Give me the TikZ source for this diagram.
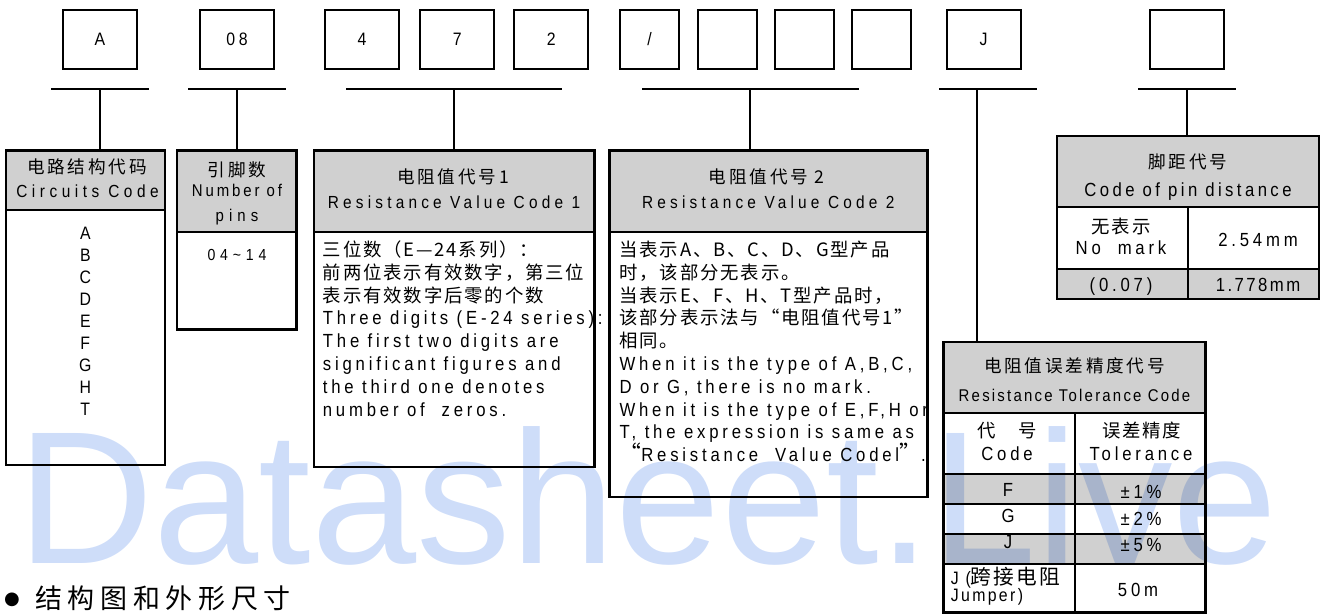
\documentclass[tikz,border=0pt]{standalone}
\usepackage{fontspec}
\setmainfont{Liberation Sans}
\newfontfamily\lat[FakeStretch=0.88,LetterSpace=20]{Liberation Sans}
\newfontfamily\cjk[Scale=1.15,LetterSpace=10]{Noto Sans CJK SC}
\newfontfamily\cjkh[Scale=1.1,LetterSpace=16]{Noto Sans CJK SC}
\newfontfamily\cjkw[LetterSpace=21]{Noto Sans CJK SC}
\newfontfamily\wmfont{Liberation Sans}
\newfontfamily\dvs{DejaVu Sans}
\newcommand\myls[1]{\addfontfeature{LetterSpace=#1}}
\definecolor{hdr}{RGB}{208,208,208}
\definecolor{wmblue}{RGB}{206,221,249}
\begin{document}
\begin{tikzpicture}[x=1pt,y=-1pt,
  box/.style={draw,line width=2pt,inner sep=0pt,minimum height=59pt,font=\lat\fontsize{18}{20}\selectfont},
  wbox/.style={box,minimum width=74pt},
  nbox/.style={box,minimum width=59pt},
  tbl/.style={inner sep=0pt},
  tblborder/.style={line width=2.6pt},
  bar/.style={line width=2pt},
  inner/.style={line width=2pt},
  lt/.style={inner sep=0pt,anchor=base,text height=12pt,text depth=3pt,font=\lat\fontsize{19}{20}\selectfont},
  ltw/.style={lt,anchor=base west},
  hlt/.style={lt,font=\lat\fontsize{17.5}{20}\selectfont\myls{24}},
  ck/.style={inner sep=0pt,anchor=base,text height=14pt,text depth=3pt,font=\cjk\fontsize{16}{20}\selectfont},
  ckw/.style={ck,anchor=base west},
  hck/.style={ck,font=\cjkh\fontsize{16}{20}\selectfont}
]
\useasboundingbox (0,0) rectangle (1327,615);

% ---- top code boxes
\node[wbox] (bA) at (100,39.5) {A};
\node[wbox] (b08) at (237,39.5) {08};
\node[wbox] (b4) at (362,39.5) {4};
\node[wbox] (b7) at (457.3,39.5) {7};
\node[wbox] (b2) at (551.3,39.5) {2};
\node[nbox] (bs) at (649.5,39.5) {/};
\node[nbox] (bx1) at (727,39.5) {};
\node[nbox] (bx2) at (804,39.5) {};
\node[nbox] (bx3) at (881.3,39.5) {};
\node[wbox] (bJ) at (983.5,39.5) {J};
\node[wbox] (bP) at (1187,39.5) {};

% ---- tables (shapes)
\node[tbl,minimum width=158.7pt,minimum height=314pt] (t1) at (85.35,307.65) {};
\node[tbl,minimum width=119pt,minimum height=178.8pt] (t2) at (236.85,240) {};
\node[tbl,minimum width=280.4pt,minimum height=316.1pt] (t3) at (454.2,308.65) {};
\node[tbl,minimum width=317.4pt,minimum height=346.1pt] (t4) at (768.3,323.65) {};
\node[tbl,minimum width=261.7pt,minimum height=162.4pt] (t5) at (1187.85,217.5) {};
\node[tbl,minimum width=261.8pt,minimum height=269.7pt] (t6) at (1074.5,477.15) {};

% header / shaded fills
\fill[hdr] (t1.north west) rectangle (t1.east |- 0,210);
\fill[hdr] (t2.north west) rectangle (t2.east |- 0,231.7);
\fill[hdr] (t3.north west) rectangle (t3.east |- 0,231.7);
\fill[hdr] (t4.north west) rectangle (t4.east |- 0,231.7);
\fill[hdr] (t5.north west) rectangle (t5.east |- 0,207.3);
\fill[hdr] (t5.west |- 0,269) rectangle (t5.south east);
\fill[hdr] (t6.north west) rectangle (t6.east |- 0,412.7);
\fill[hdr] (t6.west |- 0,474) rectangle (t6.east |- 0,504);
\fill[hdr] (t6.west |- 0,534.3) rectangle (t6.east |- 0,564.3);

% inner lines
\draw[inner] (t1.west |- 0,210) -- (t1.east |- 0,210);
\draw[inner] (t2.west |- 0,231.7) -- (t2.east |- 0,231.7);
\draw[inner] (t3.west |- 0,231.7) -- (t3.east |- 0,231.7);
\draw[inner] (t4.west |- 0,231.7) -- (t4.east |- 0,231.7);
\draw[inner] (t5.west |- 0,207.3) -- (t5.east |- 0,207.3);
\draw[inner] (t5.west |- 0,269) -- (t5.east |- 0,269);
\draw[inner] (1187.7,207.3) -- (1187.7,300);
\draw[inner] (t6.west |- 0,412.7) -- (t6.east |- 0,412.7);
\draw[inner] (t6.west |- 0,474) -- (t6.east |- 0,474);
\draw[inner] (t6.west |- 0,504) -- (t6.east |- 0,504);
\draw[inner] (t6.west |- 0,534.3) -- (t6.east |- 0,534.3);
\draw[inner] (t6.west |- 0,564.3) -- (t6.east |- 0,564.3);
\draw[inner] (1075,412.7) -- (1075,613);

% outer borders
\foreach \t in {t1,t2,t3,t4,t5,t6}
  \draw[tblborder] (\t.north west) rectangle (\t.south east);

% ---- bars and stems
\coordinate (l1) at (51,89.3);   \coordinate (r1) at (149,89.3);   \coordinate (m1) at (100,89.3);
\coordinate (l2) at (188,89.3);  \coordinate (r2) at (285.7,89.3); \coordinate (m2) at (237,89.3);
\coordinate (l3) at (346,89.3);  \coordinate (r3) at (562,89.3);   \coordinate (m3) at (454,89.3);
\coordinate (l4) at (642,89.3);  \coordinate (r4) at (858.7,89.3); \coordinate (m4) at (750,89.3);
\coordinate (l5) at (939,89.3);  \coordinate (r5) at (1036.7,89.3);\coordinate (m5) at (977,89.3);
\coordinate (l6) at (1138,89.3); \coordinate (r6) at (1236,89.3);  \coordinate (m6) at (1187,89.3);
\draw[bar] (l1) -- (r1); \draw[bar] (m1) -- (m1 |- t1.north);
\draw[bar] (l2) -- (r2); \draw[bar] (m2) -- (m2 |- t2.north);
\draw[bar] (l3) -- (r3); \draw[bar] (m3) -- (m3 |- t3.north);
\draw[bar] (l4) -- (r4); \draw[bar] (m4) -- (m4 |- t4.north);
\draw[bar] (l5) -- (r5); \draw[bar] (m5) -- (m5 |- t6.north);
\draw[bar] (l6) -- (r6); \draw[bar] (m6) -- (m6 |- t5.north);

% ---- table 1
\node[hck] (t1h) at (87,173.7) {电路结构代码};
\node[hlt,font=\lat\fontsize{17.5}{20}\selectfont\myls{26}] (t1e) at (87.5,197) {Circuits Code};
\foreach \L [count=\i from 0] in {A,B,C,D,E,F,G,H,T}
  \node[lt,font=\lat\fontsize{18}{20}\selectfont] (t1l\i) at (85.3,{239+22.1*\i}) {\L};

% ---- table 2
\node[hck] (t2h) at (237,176) {引脚数};
\node[lt,font=\lat\fontsize{17}{20}\selectfont\myls{17}] (t2e) at (237,196) {Number of};
\node[lt,font=\lat\fontsize{17}{20}\selectfont\myls{30}] (t2f) at (237,221) {pins};
\node[lt,font=\lat\fontsize{16}{20}\selectfont\myls{30}] (t2v) at (237,260) {04\textasciitilde14};

% ---- table 3
\node[hck] (t3h) at (453,183.7) {电阻值代号1};
\node[hlt] (t3e) at (454,208.7) {Resistance Value Code 1};
\node[ckw] (t3a) at (322.7,256.5) {三位数（E—24系列）：};
\node[ckw] (t3b) at (322.7,279.3) {前两位表示有效数字，第三位};
\node[ckw] (t3c) at (322.7,302.1) {表示有效数字后零的个数};
\node[ltw] (t3d) at (322.7,324.9) {Three digits (E-24 series):};
\node[ltw] (t3e2) at (322.7,347.7) {The first two digits are};
\node[ltw] (t3f) at (322.7,370.5) {significant figures and};
\node[ltw] (t3g) at (322.7,393.3) {the third one denotes};
\node[ltw] (t3h2) at (322.7,416.1) {number of\ \ zeros.};

% ---- table 4
\node[hck] (t4h) at (766.7,183.7) {电阻值代号 2};
\node[hlt] (t4e) at (768.3,208.7) {Resistance Value Code 2};
\node[ckw] (t4a) at (619.3,256.5) {当表示A、B、C、D、G型产品};
\node[ckw] (t4b) at (619.3,279.3) {时，该部分无表示。};
\node[ckw] (t4c) at (619.3,302.1) {当表示E、F、H、T型产品时，};
\node[ckw] (t4d) at (619.3,324.9) {该部分表示法与“电阻值代号1”};
\node[ckw] (t4f) at (619.3,347.7) {相同。};
\node[ltw] (t4g) at (619.3,370.5) {When it is the type of A,B,C,};
\node[ltw] (t4i) at (619.3,393.3) {D or G, there is no mark.};
\node[ltw] (t4j) at (619.3,416.1) {When it is the type of E,F,H or};
\node[ltw] (t4k) at (619.3,438.9) {T, the expression is same as};
\node[ltw] (t4l) at (619.3,461.7) {{\cjk “}Resistance\ \ Value Codel{\cjk ”}.};

% ---- table 5
\node[hck] (t5h) at (1188,168.7) {脚距代号};
\node[lt,font=\lat\fontsize{19}{20}\selectfont\myls{18}] (t5e) at (1188,196.7) {Code\ of\ pin\ distance};
\node[ck] (t5a) at (1121,233) {无表示};
\node[lt] (t5b) at (1121,254.3) {No\ \ mark};
\node[lt] (t5c) at (1258,246) {2.54mm};
\node[lt] (t5d) at (1121,291.7) {(0.07)};
\node[lt,font=\lat\fontsize{19}{20}\selectfont\myls{13}] (t5f) at (1258,291.7) {1.778mm};

% ---- table 6
\node[hck] (t6h) at (1074.5,372) {电阻值误差精度代号};
\node[lt,font=\lat\fontsize{17}{20}\selectfont\myls{13}] (t6e) at (1074.5,401.7) {Resistance Tolerance Code};
\node[ck] (t6a) at (1007.3,437) {代　号};
\node[lt] (t6b) at (1007,460) {Code};
\node[ck] (t6c) at (1141.7,437) {误差精度};
\node[lt] (t6d) at (1141,460) {Tolerance};
\node[lt] (t6f) at (1008,496) {F};
\node[lt] (t6f2) at (1141,498) {±1\%};
\node[lt] (t6g) at (1008,522) {G};
\node[lt] (t6g2) at (1141,525) {±2\%};
\node[lt] (t6j) at (1008,548) {J};
\node[lt] (t6j2) at (1141,551.7) {±5\%};
\node[ltw,text depth=2pt,font=\lat\fontsize{18}{20}\selectfont\myls{13}] (t6k) at (950.7,584.5) {J\ ({\cjk 跨接电阻}};
\node[ltw,text height=11pt,font=\lat\fontsize{18}{20}\selectfont\myls{13}] (t6l) at (950.7,601) {Jumper)};
\node[lt] (t6m) at (1138,596) {50m};

% ---- bottom caption
\node[inner sep=0pt,font=\dvs\fontsize{18}{20}\selectfont] (bul) at (12,600) {●};
\node[anchor=base west,inner sep=0pt,font=\cjkw\fontsize{27}{30}\selectfont] (cap) at (35,608) {结构图和外形尺寸};

% ---- watermark
\node[anchor=base west,inner sep=0pt,text=wmblue,font=\wmfont\fontsize{189}{189}\selectfont,blend mode=multiply] (wm) at (17,563) {Datasheet.Live};
\end{tikzpicture}
\end{document}
